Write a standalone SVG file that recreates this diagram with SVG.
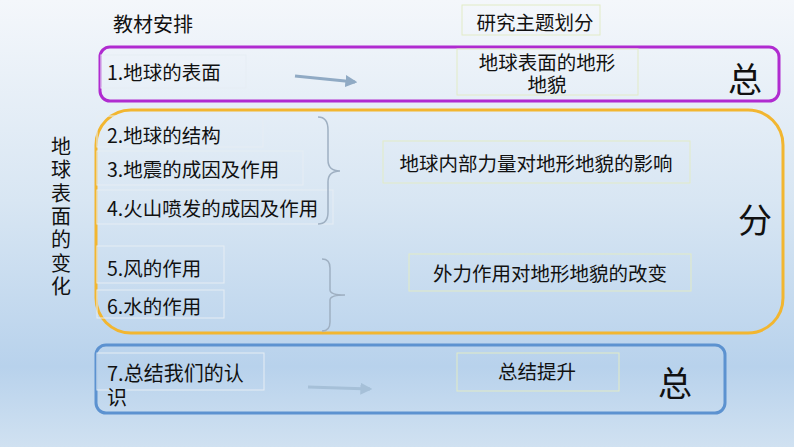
<svg xmlns="http://www.w3.org/2000/svg" width="794" height="447" viewBox="0 0 794 447">
<defs>
<linearGradient id="bg" x1="0" y1="0" x2="0" y2="1">
<stop offset="0" stop-color="#f4f7fb"/>
<stop offset="0.45" stop-color="#d8e6f3"/>
<stop offset="0.82" stop-color="#b8d2ec"/>
<stop offset="1" stop-color="#d0e1f1"/>
</linearGradient>
<marker id="ah1" viewBox="0 0 10 10" refX="8" refY="5" markerWidth="4" markerHeight="4" orient="auto" markerUnits="strokeWidth">
<path d="M0,0 L10,5 L0,10 z" fill="#90aac4"/>
</marker>
<marker id="ah2" viewBox="0 0 10 10" refX="8" refY="5" markerWidth="4" markerHeight="4" orient="auto" markerUnits="strokeWidth">
<path d="M0,0 L10,5 L0,10 z" fill="#a6c0d8"/>
</marker>
</defs>
<style>
text{font-family:"Noto Sans CJK SC","Noto Sans",sans-serif;fill:#111;dominant-baseline:central}
.t{font-size:19.5px}
.c{text-anchor:middle}
.big{font-size:34px;text-anchor:middle}
.lb{fill:none;stroke:#e6edf4;stroke-width:1}
.rb{fill:none;stroke:#e2ebc6;stroke-width:1}
.brace{fill:none;stroke:#9fb0c2;stroke-width:1.5}
</style>
<rect x="0" y="0" width="794" height="447" fill="url(#bg)"/>

<g id="groups">
<rect x="100" y="47" width="679" height="54" rx="10" fill="none" stroke="#b02bd0" stroke-width="3"/>
<rect x="96" y="110" width="687" height="223" rx="35" fill="none" stroke="#f2b630" stroke-width="3"/>
<rect x="96" y="345" width="629" height="68" rx="10" fill="none" stroke="#5c92d0" stroke-width="3"/>
</g>

<g id="header-left"><text class="t" x="113" y="23" style="font-size:20px">教材安排</text></g>
<g id="header-right"><rect class="rb" x="462" y="5" width="138" height="30"/><text class="t c" x="535" y="21">研究主题划分</text></g>

<g id="side-title">
<text class="t c" x="61" y="145" style="font-size:20px">地</text>
<text class="t c" x="61" y="168" style="font-size:20px">球</text>
<text class="t c" x="61" y="192" style="font-size:20px">表</text>
<text class="t c" x="61" y="215" style="font-size:20px">面</text>
<text class="t c" x="61" y="238" style="font-size:20px">的</text>
<text class="t c" x="61" y="262" style="font-size:20px">变</text>
<text class="t c" x="61" y="285" style="font-size:20px">化</text>
</g>

<g id="n1"><rect class="lb" x="101" y="55" width="145" height="33"/><text class="t" x="107" y="71">1.地球的表面</text></g>
<g id="r1"><rect class="rb" x="457" y="49" width="181" height="46"/><text class="t c" x="547" y="61">地球表面的地形</text><text class="t c" x="547" y="83">地貌</text></g>
<g id="z1"><text class="big" x="745" y="77">总</text></g>

<g id="n2"><rect class="lb" x="97" y="116" width="166" height="31"/><text class="t" x="107" y="134">2.地球的结构</text></g>
<g id="n3"><rect class="lb" x="97" y="151" width="206" height="34"/><text class="t" x="107" y="168">3.地震的成因及作用</text></g>
<g id="n4"><rect class="lb" x="97" y="190" width="236" height="34"/><text class="t" x="107" y="207">4.火山喷发的成因及作用</text></g>
<g id="r2"><rect class="rb" x="383" y="141" width="307" height="42"/><text class="t c" x="536" y="162">地球内部力量对地形地貌的影响</text></g>

<g id="n5"><rect class="lb" x="97" y="246" width="127" height="37"/><text class="t" x="107" y="267">5.风的作用</text></g>
<g id="n6"><rect class="lb" x="97" y="290" width="127" height="28"/><text class="t" x="107" y="305">6.水的作用</text></g>
<g id="r3"><rect class="rb" x="409" y="254" width="282" height="37"/><text class="t c" x="550" y="272">外力作用对地形地貌的改变</text></g>
<g id="z2"><text class="big" x="755" y="218">分</text></g>

<g id="n7"><rect class="lb" x="97" y="353" width="167" height="37"/><text class="t" x="107" y="372" style="font-size:20px">7.总结我们的认</text><text class="t" x="107" y="396" style="font-size:20px">识</text></g>
<g id="r4"><rect class="rb" x="457" y="353" width="162" height="38"/><text class="t c" x="537" y="370">总结提升</text></g>
<g id="z3"><text class="big" x="675" y="381">总</text></g>

<g id="connectors">
<line x1="295" y1="76" x2="355" y2="82" stroke="#90aac4" stroke-width="3" marker-end="url(#ah1)"/>
<line x1="308" y1="387" x2="370" y2="389" stroke="#a6c0d8" stroke-width="3" marker-end="url(#ah2)"/>
<path class="brace" d="M318,117 Q328,117 328,130 L328,160 Q328,171 340,171 Q328,171 328,182 L328,212 Q328,224 318,224"/>
<path class="brace" d="M322,259 Q330,259 330,268 L330,290 Q330,295 345,295 Q330,295 330,300 L330,322 Q330,331 322,331"/>
</g>
</svg>
